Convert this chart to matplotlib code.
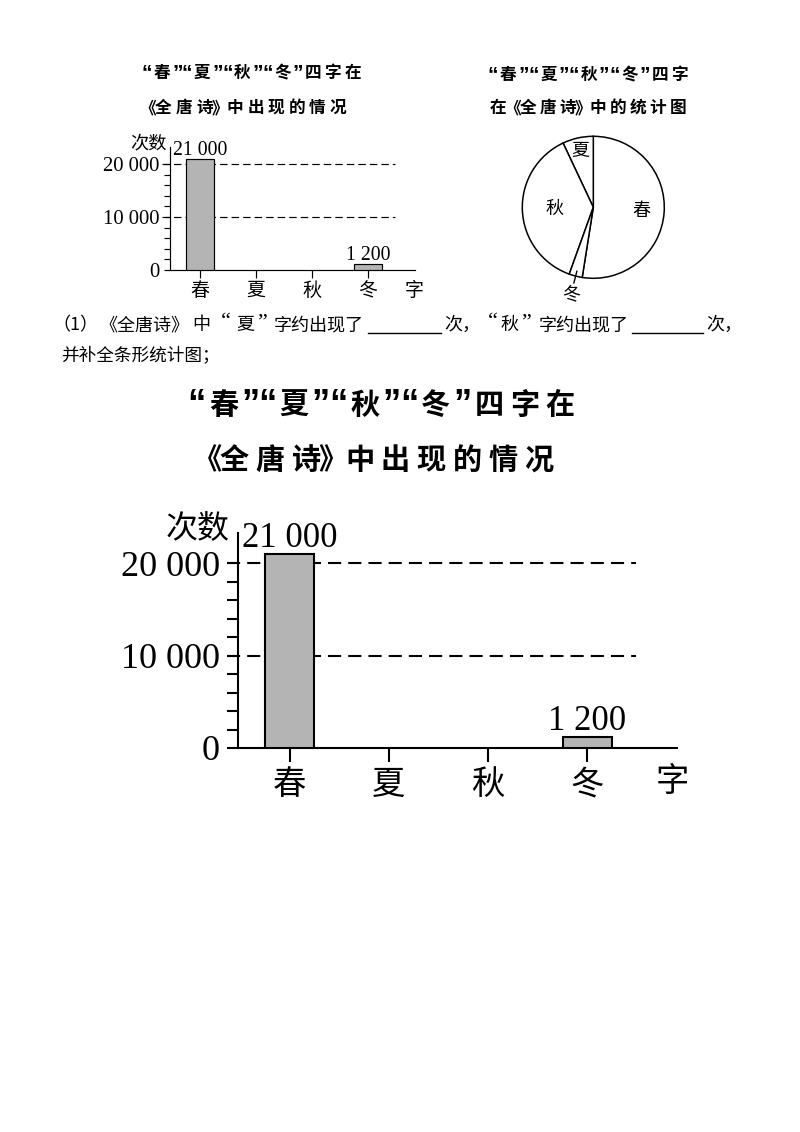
import numpy as np
import matplotlib
matplotlib.use("Agg")
import matplotlib.pyplot as plt

plt.rcParams['font.family'] = ['Liberation Serif', 'Noto Sans CJK SC', 'DejaVu Sans']
CJK = ['Noto Sans CJK SC', 'DejaVu Sans']
QUOTE_BOLD = ['Liberation Sans', 'DejaVu Sans']
QUOTE = ['Liberation Serif', 'DejaVu Sans']

chars = ['春', '夏', '秋', '冬']
counts = [21000, None, None, 1200]          # 夏 / 秋 are left blank in the bar chart
count_labels = ['21 000', '', '', '1 200']
pie_counts = [21000, 2800, 15000, 1200]     # from the pie angles
y_major = [0, 10000, 20000]
y_major_labels = ['0', '10 000', '20 000']
y_minor_step = 2000
grid_values = [10000, 20000]

title_1 = '“春”“夏”“秋”“冬”四字在'
title_2 = '《全唐诗》中出现的情况'
pie_title_1 = '“春”“夏”“秋”“冬”四字'
pie_title_2 = '在《全唐诗》中的统计图'

W, H = 800, 1132
fig = plt.figure(figsize=(W / 100, H / 100), dpi=100)
GRAY = '#b4b4b4'


def fx(x):
    return x / W


def fy(y):
    return 1 - y / H


def spaced_text(x0, y, s, pitch, size):
    # bold title with wide letter spacing, one glyph per cell
    x = x0
    for ch in s:
        w = 0.5 if ch in '“”《》' else 1.0
        if ch in '“”':
            fig.text(fx(x + w * pitch / 2), fy(y), ch, ha='center', va='center',
                     fontsize=size * 1.25, fontweight='bold', family=QUOTE_BOLD)
        else:
            fig.text(fx(x + w * pitch / 2), fy(y), ch, ha='center', va='center',
                     fontsize=size, fontweight='bold', family=CJK)
        x += w * pitch


def bar_chart(left, right, top, base, y20k, x0, step, dash_l, dash_r,
              unit_pos, zi_pos, s):
    ax = fig.add_axes([fx(left), fy(base), (right - left) / W, (base - top) / H])
    ax.set_xlim((left - x0) / step, (right - x0) / step)
    ax.set_ylim(0, (base - top) / (base - y20k) * 20000)
    lw = 1.5 * s

    for side in ['top', 'right']:
        ax.spines[side].set_visible(False)
    for side in ['left', 'bottom']:
        ax.spines[side].set_linewidth(lw)

    ax.set_yticks(y_major, y_major_labels)
    minor = [v for v in np.arange(0, 20001, y_minor_step) if v not in y_major]
    ax.set_yticks(minor, minor=True)
    ax.tick_params(axis='y', which='both', direction='out', length=8 * s,
                   width=lw, pad=5 * s, labelsize=26 * s)
    ax.set_xticks(range(len(chars)), chars)
    ax.tick_params(axis='x', direction='out', length=10 * s, width=lw,
                   pad=6 * s, labelsize=24 * s)

    ax.hlines(grid_values, (dash_l - x0) / step, (dash_r - x0) / step,
              colors='k', linewidth=lw, linestyles=(0, (6.3, 3.4)),
              clip_on=False, zorder=1)

    xs = [i for i, v in enumerate(counts) if v is not None]
    vals = [counts[i] for i in xs]
    ax.bar(xs, vals, width=0.5, color=GRAY, edgecolor='k', linewidth=lw,
           zorder=3)
    for i in xs:
        ax.annotate(count_labels[i], xy=(i, counts[i]), xytext=(0, 5 * s),
                    textcoords='offset points', ha='center', va='baseline',
                    fontsize=25 * s)

    fig.text(fx(unit_pos[0]), fy(unit_pos[1]), '次数', ha='center',
             va='center', fontsize=23 * s, family=CJK)
    fig.text(fx(zi_pos[0]), fy(zi_pos[1]), '字', ha='center', va='center',
             fontsize=24 * s, family=CJK)
    return ax


# ---- top left: small bar chart ----
spaced_text(142, 73, title_1, 20.1, 12)
spaced_text(143, 108, title_2, 20.5, 12)
bar_chart(170, 415, 146.7, 270, 164, 200, 56, 162, 395,
          (148, 143), (414, 290), 0.57)

# ---- top right: pie chart ----
spaced_text(488, 75, pie_title_1, 20.2, 12)
spaced_text(488, 108, pie_title_2, 20.0, 12)
cx, cy, r = 593.3, 207.3, 71
axp = fig.add_axes([fx(cx - r), fy(cy + r), 2 * r / W, 2 * r / H])
start = 90 - 360 * pie_counts[0] / sum(pie_counts)
wedges, _ = axp.pie(pie_counts, startangle=start, colors=['white'] * 4,
                    wedgeprops=dict(edgecolor='k', linewidth=1.1))
for w in wedges:
    w.set_clip_on(False)
axp.set_xlim(-1, 1)
axp.set_ylim(-1, 1)
label_r = [0.68, 0.815, 0.54, 1.27]
for w, ch, rr in zip(wedges, chars, label_r):
    a = np.deg2rad((w.theta1 + w.theta2) / 2)
    axp.text(rr * np.cos(a), rr * np.sin(a), ch, ha='center', va='center',
             fontsize=13, family=CJK)
a = np.deg2rad((wedges[3].theta1 + wedges[3].theta2) / 2)
axp.plot([0.93 * np.cos(a), 1.1 * np.cos(a)], [0.93 * np.sin(a), 1.1 * np.sin(a)],
         color='k', lw=1.0, clip_on=False)

# ---- question text ----
q_size = 13
y1, y2 = 325, 356
line1 = [('（1）', 75, 'center'), ('《全唐诗》', 144, 'center'), ('中', 201, 'center'),
         ('“', 226, 'center'), ('夏', 245, 'center'), ('”', 262, 'center'),
         ('字约出现了', 364, 'right'), ('次，', 444, 'left'),
         ('“', 493, 'center'), ('秋', 510, 'center'), ('”', 526, 'center'),
         ('字约出现了', 629, 'right'), ('次，', 706, 'left')]
for txt, x, ha in line1:
    if txt in '“”':
        fig.text(fx(x), fy(y1 - 2), txt, ha=ha, va='center', fontsize=16,
                 family=QUOTE)
    else:
        fig.text(fx(x), fy(y1), txt, ha=ha, va='center', fontsize=q_size,
                 family=CJK)
for x1, x2 in [(368, 441), (632, 703)]:
    fig.add_artist(plt.Line2D([fx(x1), fx(x2)], [fy(333), fy(333)],
                              color='k', lw=1.0))
fig.text(fx(61), fy(y2), '并补全条形统计图；', ha='left', va='center',
         fontsize=12.7, family=CJK)

# ---- big bar chart ----
spaced_text(188, 405, title_1, 35.4, 21)
spaced_text(198, 460, title_2, 35.9, 21)
bar_chart(237.7, 677, 533, 748, 563, 289.5, 99.3, 227, 636,
          (197.5, 529), (672, 782), 1.0)

fig.savefig('out.png', dpi=100)
